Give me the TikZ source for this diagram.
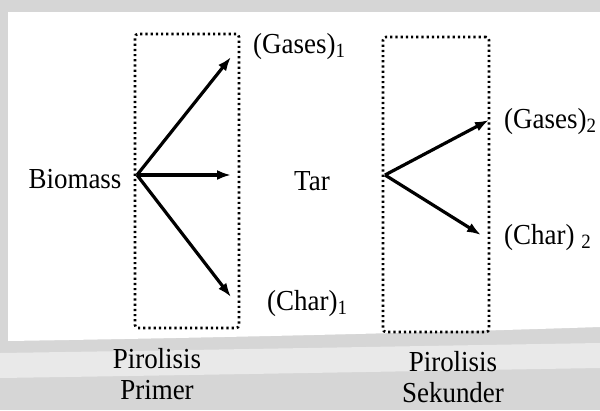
\documentclass[tikz,border=0pt]{standalone}
\usepackage{fontspec}
\setmainfont[FakeStretch=0.93]{Liberation Serif}
\usepackage{tikz}
\usetikzlibrary{arrows.meta}

\definecolor{wmgray}{HTML}{D6D6D6}
\definecolor{wmlight}{HTML}{E9E9E9}

\begin{document}
\begin{tikzpicture}[
            x=1pt,   % 1 px = 1 pt
            y=-1pt,  % y nach unten
            lbl/.style={font=\fontsize{29}{31}\selectfont, inner sep=0pt},
            dotbox/.style={draw, line width=2.6pt, dash pattern=on 2.2pt off 3pt, rounded corners=3pt, inner sep=0pt},
            flow/.style={line width=3.2pt, -{Latex[length=14pt,width=10pt]}}
        ]
            % Hintergrund
            \useasboundingbox (0,0) rectangle (600,410);
            \fill[wmgray] (0,0) rectangle (600,410);
            \fill[white] (8,12) -- (600,12) -- (600,327) .. controls (420,333) and (200,338) .. (8,341) -- cycle;
            \fill[wmlight] (0,353) .. controls (200,350) and (420,346) .. (600,343) -- (600,368) .. controls (420,371) and (200,375) .. (0,378) -- cycle;

            % Kästen
            \node[dotbox, minimum width=104pt, minimum height=294pt] (primbox) at (187,181) {};
            \node[dotbox, minimum width=106pt, minimum height=295pt] (sekbox) at (436,184.5) {};

            % Texte
            \node[lbl, anchor=base] (biomass) at (75,188) {Biomass};
            \node[lbl, anchor=base] (tar) at (312,190) {Tar};
            \node[lbl, anchor=base west] (gas1) at (253,53) {(Gases)\textsubscript{1}};
            \node[lbl, anchor=base west] (char1) at (267,310) {(Char)\textsubscript{1}};
            \node[lbl, anchor=base west] (gas2) at (504,128) {(Gases)\textsubscript{2}};
            \node[lbl, anchor=base west] (char2) at (504,244) {(Char) \textsubscript{2}};
            \node[lbl, align=center] (prim) at (157,374) {Pirolisis\\Primer};
            \node[lbl, align=center] (sek) at (453,377) {Pirolisis\\Sekunder};

            % Pfeile Primer
            \coordinate (src1) at (137,175);
            \coordinate (g1tip) at (231,57);
            \coordinate (t1tip) at (231,175);
            \coordinate (c1tip) at (231,297);
            \draw[flow] (src1) -- (g1tip);
            \draw[flow] (src1) -- (t1tip);
            \draw[flow] (src1) -- (c1tip);

            % Pfeile Sekunder
            \coordinate (src2) at (385,175);
            \coordinate (g2tip) at (489,120);
            \coordinate (c2tip) at (481,235);
            \draw[flow] (src2) -- (g2tip);
            \draw[flow] (src2) -- (c2tip);
        \end{tikzpicture}
\end{document}
